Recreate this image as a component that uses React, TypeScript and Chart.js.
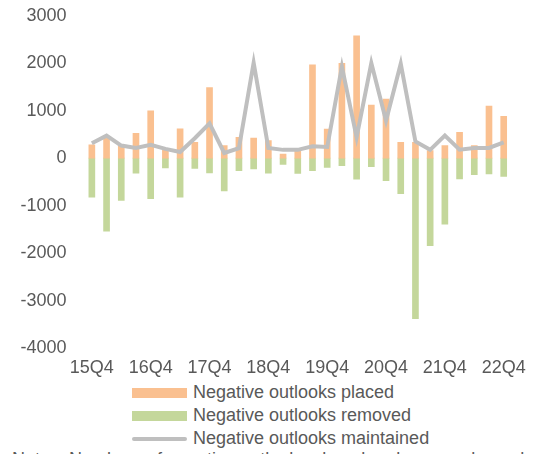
import React, { useEffect, useRef } from "react";
import { Chart, registerables } from "chart.js";

Chart.register(...registerables);

const quarters = [
  "15Q4", "16Q1", "16Q2", "16Q3", "16Q4", "17Q1", "17Q2", "17Q3", "17Q4",
  "18Q1", "18Q2", "18Q3", "18Q4", "19Q1", "19Q2", "19Q3", "19Q4",
  "20Q1", "20Q2", "20Q3", "20Q4", "21Q1", "21Q2", "21Q3", "21Q4",
  "22Q1", "22Q2", "22Q3", "22Q4",
];

const placed = [
  280, 420, 265, 525, 1000, 195, 620, 335, 1490, 265, 440, 425, 370, 85, 200,
  1965, 615, 2000, 2580, 1120, 1245, 335, 335, 160, 265, 545, 265, 1100, 880,
];

const removed = [
  -820, -1540, -890, -315, -855, -205, -820, -215, -310, -690, -265, -225, -315,
  -130, -320, -265, -195, -160, -445, -180, -475, -750, -3380, -1845, -1390,
  -435, -350, -330, -385,
];

const maintained = [
  315, 475, 265, 215, 280, 195, 130, 420, 735, 110, 210, 2010, 215, 175, 175,
  250, 235, 1930, 440, 2005, 790, 1990, 350, 175, 475, 180, 215, 215, 335,
];

const yTicks = [3000, 2000, 1000, 0, -1000, -2000, -3000, -4000];

const ORANGE = "#FAC090";
const GREEN = "#C4D79B";
const GREY = "#BFBFBF";
const TEXT = "#595959";
const FONT = "'Liberation Sans', Arial, sans-serif";

export default function App() {
  const ref = useRef<HTMLCanvasElement | null>(null);

  useEffect(() => {
    if (!ref.current) return;
    const chart = new Chart(ref.current, {
      type: "bar",
      data: {
        labels: quarters,
        datasets: [
          {
            type: "line",
            label: "Negative outlooks maintained",
            data: maintained,
            borderColor: GREY,
            backgroundColor: GREY,
            borderWidth: 4,
            pointRadius: 0,
            tension: 0,
            stack: "line",
            order: 0,
          } as any,
          {
            label: "Negative outlooks placed",
            data: placed,
            backgroundColor: ORANGE,
            stack: "bars",
            barThickness: 6,
            order: 1,
          },
          {
            label: "Negative outlooks removed",
            data: removed,
            backgroundColor: GREEN,
            stack: "bars",
            barThickness: 6,
            order: 1,
          },
        ],
      },
      options: {
        animation: false,
        responsive: false,
        maintainAspectRatio: false,
        layout: { padding: { top: 0, right: 16.5, left: 0, bottom: 0 } },
        plugins: {
          legend: { display: false },
          tooltip: { enabled: false },
        },
        scales: {
          x: {
            stacked: true,
            offset: true,
            grid: { display: false, drawTicks: false },
            border: { display: false },
            ticks: {
              autoSkip: false,
              maxRotation: 0,
              minRotation: 0,
              padding: 9,
              color: TEXT,
              font: { family: FONT, size: 18 },
              callback: (_v: any, i: number) => (i % 4 === 0 ? quarters[i] : ""),
            },
            afterFit: (s: any) => {
              s.height = 30;
            },
          },
          y: {
            stacked: true,
            min: -4000,
            max: 3000,
            grid: { display: false, drawTicks: false },
            border: { display: false },
            afterBuildTicks: (s: any) => {
              s.ticks = yTicks.map((v) => ({ value: v }));
            },
            ticks: {
              padding: 18,
              color: TEXT,
              font: { family: FONT, size: 18 },
              callback: (v: any) => String(v),
            },
            afterFit: (s: any) => {
              s.width = 84.5;
            },
          },
        },
      },
    });
    return () => chart.destroy();
  }, []);

  const legendItems = [
    { label: "Negative outlooks placed", color: ORANGE, kind: "box" },
    { label: "Negative outlooks removed", color: GREEN, kind: "box" },
    { label: "Negative outlooks maintained", color: GREY, kind: "line" },
  ];

  return (
    <div
      style={{
        position: "absolute",
        left: 0,
        top: 0,
        width: 535,
        height: 454,
        overflow: "hidden",
        background: "#fff",
        fontFamily: FONT,
        color: TEXT,
      }}
    >
      <canvas
        ref={ref}
        width={535}
        height={391}
        style={{ display: "block", position: "absolute", left: 0, top: -13 }}
      />
      {legendItems.map((it, i) => (
        <div
          key={it.label}
          style={{
            position: "absolute",
            left: 132,
            top: 392.5 + i * 23 - 11.5,
            height: 23,
            display: "flex",
            alignItems: "center",
            whiteSpace: "nowrap",
            fontSize: 18,
          }}
        >
          <span
            style={{
              display: "inline-block",
              width: 55,
              height: it.kind === "box" ? 10 : 4,
              borderRadius: it.kind === "box" ? 0 : 2,
              background: it.color,
              marginRight: 6,
            }}
          />
          <span>{it.label}</span>
        </div>
      ))}
      <div
        style={{
          position: "absolute",
          left: 12,
          top: 448.5,
          fontSize: 18,
          whiteSpace: "nowrap",
        }}
      >
        Notes: Numbers of negative outlooks placed and removed are shown
      </div>
    </div>
  );
}
